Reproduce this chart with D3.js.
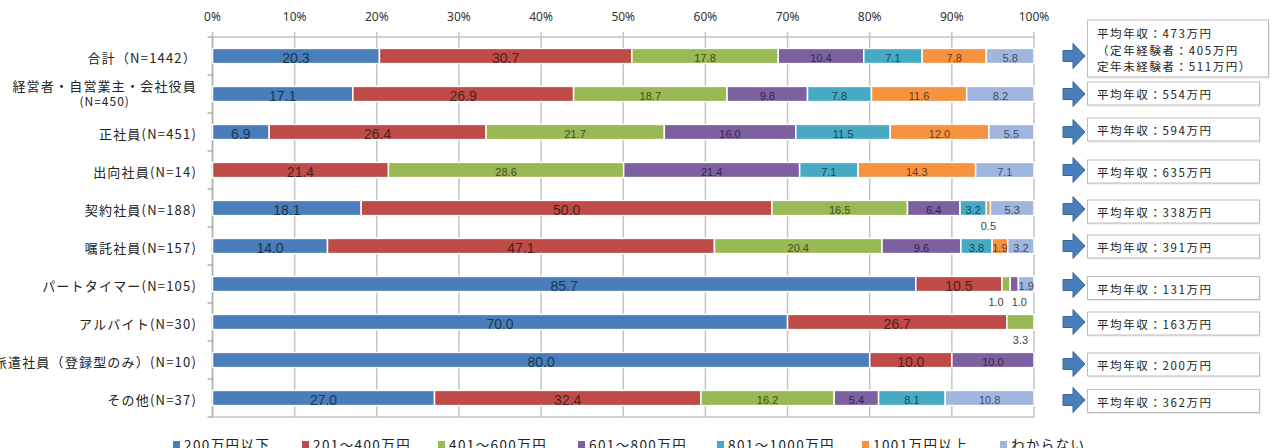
<!DOCTYPE html>
<html>
<head>
<meta charset="utf-8">
<script src="https://cdn.jsdelivr.net/npm/d3@7"></script>
<style>
  body { margin: 0; background: #fff; }
  svg { display: block; font-family: "Noto Sans CJK JP", "Noto Sans", sans-serif; }
</style>
</head>
<body>
<svg id="chart" width="1276" height="448"></svg>
<script>
// Categories (rows, top to bottom)
const categories = [
    "合計（N=1442）",
    "経営者・自営業主・会社役員\n(N=450)",
    "正社員(N=451)",
    "出向社員(N=14)",
    "契約社員(N=188)",
    "嘱託社員(N=157)",
    "パートタイマー(N=105)",
    "アルバイト(N=30)",
    "派遣社員（登録型のみ）(N=10)",
    "その他(N=37)"
];

// Series names (legend order)
const seriesNames = ["200万円以下", "201～400万円", "401～600万円", "601～800万円", "801～1000万円", "1001万円以上", "わからない"];

// Series values, one per category
const under200   = [20.3, 17.1, 6.9, 0, 18.1, 14.0, 85.7, 70.0, 80.0, 27.0];
const r201to400  = [30.7, 26.9, 26.4, 21.4, 50.0, 47.1, 10.5, 26.7, 10.0, 32.4];
const r401to600  = [17.8, 18.7, 21.7, 28.6, 16.5, 20.4, 1.0, 3.3, 0, 16.2];
const r601to800  = [10.4, 9.8, 16.0, 21.4, 6.4, 9.6, 1.0, 0, 10.0, 5.4];
const r801to1000 = [7.1, 7.8, 11.5, 7.1, 3.2, 3.8, 0, 0, 0, 8.1];
const over1001   = [7.8, 11.6, 12.0, 14.3, 0.5, 1.9, 0, 0, 0, 0];
const unknown    = [5.8, 8.2, 5.5, 7.1, 5.3, 3.2, 1.9, 0, 0, 10.8];

// Average income notes shown in the boxes on the right
const avgIncome = [
    ["平均年収：473万円", "（定年経験者：405万円", "定年未経験者：511万円）"],
    ["平均年収：554万円"],
    ["平均年収：594万円"],
    ["平均年収：635万円"],
    ["平均年収：338万円"],
    ["平均年収：391万円"],
    ["平均年収：131万円"],
    ["平均年収：163万円"],
    ["平均年収：200万円"],
    ["平均年収：362万円"]
];

// Top axis ticks
const tickValues = [0, 0.1, 0.2, 0.3, 0.4, 0.5, 0.6, 0.7, 0.8, 0.9, 1];

const colours = ["#4A7EBB", "#BE4B48", "#98B954", "#7D60A0", "#46AAC5", "#F69240", "#A0B6DE"];
const labelSizes = [14, 14, 11, 11, 11, 11, 11];

// Small segments whose labels sit below the bar (layout only)
const outsideLabels = [
    { row: 4, s: 5, dx: 0 },
    { row: 6, s: 2, dx: -10 },
    { row: 6, s: 3, dx: 5 },
    { row: 7, s: 2, dx: 0 }
];
// Hand nudges of the right-hand boxes / arrows relative to bar centre
const boxNudge = [0, -0.5, -2.5, 1.5, 3.5, 0.5, 4, 1.5, 4.5, 3];
const arrowNudge = [0, 0, 0, 0, 1, 0, 1, 0, 4, 2];

const allSeries = [under200, r201to400, r401to600, r601to800, r801to1000, over1001, unknown];

// Build table for d3.stack
const table = categories.map((c, i) => {
    const row = { category: c };
    seriesNames.forEach((s, j) => { row[s] = allSeries[j][i]; });
    return row;
});

const stacked = d3.stack()
    .keys(seriesNames)
    .offset(d3.stackOffsetExpand)(table);

const margin = { top: 37, left: 212.5, right: 1034, bottom: 417 };

const svg = d3.select("#chart");

const xScale = d3.scaleLinear().domain([0, 1]).range([margin.left, margin.right]);
const yScale = d3.scaleBand().domain(categories).range([margin.top, margin.bottom]).paddingInner(0.6).paddingOuter(0.3);
const step = yScale.step();

// Gridlines
svg.append("g")
    .selectAll("line")
    .data(tickValues)
    .join("line")
    .attr("x1", d => xScale(d))
    .attr("x2", d => xScale(d))
    .attr("y1", margin.top - 5)
    .attr("y2", margin.bottom)
    .attr("stroke", "#c4c4c4")
    .attr("stroke-width", 1.5);

// Top and bottom frame lines
svg.append("line")
    .attr("x1", margin.left).attr("x2", margin.right)
    .attr("y1", margin.top).attr("y2", margin.top)
    .attr("stroke", "#c4c4c4").attr("stroke-width", 1.5);
svg.append("line")
    .attr("x1", margin.left).attr("x2", margin.right)
    .attr("y1", margin.bottom).attr("y2", margin.bottom)
    .attr("stroke", "#c4c4c4").attr("stroke-width", 1.5);

// Left axis line with category ticks
svg.append("line")
    .attr("x1", margin.left).attr("x2", margin.left)
    .attr("y1", margin.top).attr("y2", margin.bottom)
    .attr("stroke", "#b0b0b0").attr("stroke-width", 1.5);
svg.append("g")
    .selectAll("line")
    .data(d3.range(categories.length + 1))
    .join("line")
    .attr("x1", margin.left - 5)
    .attr("x2", margin.left)
    .attr("y1", d => margin.top + d * step)
    .attr("y2", d => margin.top + d * step)
    .attr("stroke", "#b0b0b0").attr("stroke-width", 1.5);

// Top tick labels
svg.append("g")
    .selectAll("text")
    .data(tickValues)
    .join("text")
    .attr("x", d => xScale(d))
    .attr("y", 21)
    .attr("text-anchor", "middle")
    .style("font-family", "'Noto Sans', sans-serif")
    .style("font-size", "12px")
    .attr("fill", "#333")
    .text(d3.format(".0%"));

// Bars
const barCentre = c => yScale(c) + yScale.bandwidth() / 2;

svg.append("g")
    .selectAll("g")
    .data(stacked)
    .join("g")
    .attr("fill", (d, i) => colours[i])
    .selectAll("rect")
    .data(d => d)
    .join("rect")
    .attr("x", d => xScale(d[0]))
    .attr("width", d => Math.max(0, xScale(d[1]) - xScale(d[0])))
    .attr("y", d => yScale(d.data.category))
    .attr("height", yScale.bandwidth())
    .attr("stroke", "#fff")
    .attr("stroke-width", 1.5);

// Value labels
stacked.forEach((layer, s) => {
    layer.forEach((d, row) => {
        const v = allSeries[s][row];
        if (!v) return;
        const cx = (xScale(d[0]) + xScale(d[1])) / 2;
        const cy = barCentre(d.data.category);
        const out = outsideLabels.find(o => o.row === row && o.s === s);
        svg.append("text")
            .attr("x", out ? cx + out.dx : cx)
            .attr("y", out ? cy + 22 : cy + (labelSizes[s] > 12 ? 6.5 : 5.5))
            .attr("text-anchor", "middle")
            .style("font-family", "'Liberation Sans', sans-serif")
            .style("font-size", (out ? 11 : labelSizes[s]) + "px")
            .attr("fill", out ? "#444" : d3.color(colours[s]).darker(2.5))
            .text(d3.format(".1f")(v));
    });
});

// Category labels
categories.forEach(c => {
    const cy = barCentre(c);
    const lines = c.split("\n");
    if (lines.length === 1) {
        svg.append("text")
            .attr("x", 197)
            .attr("y", cy + 6.5)
            .attr("text-anchor", "end")
            .style("font-size", "13px")
            .style("letter-spacing", "1.2px")
            .attr("fill", "#222")
            .text(c);
    } else {
        const first = svg.append("text")
            .attr("x", 197)
            .attr("y", cy - 3)
            .attr("text-anchor", "end")
            .style("font-size", "13px")
            .style("letter-spacing", "1.2px")
            .attr("fill", "#222")
            .text(lines[0]);
        const w = first.node().getComputedTextLength();
        svg.append("text")
            .attr("x", 197 - w / 2)
            .attr("y", cy + 12)
            .attr("text-anchor", "middle")
            .style("font-size", "12px")
            .style("letter-spacing", "1px")
            .attr("fill", "#222")
            .text(lines[1]);
    }
});

// Arrows and average income boxes
categories.forEach((c, i) => {
    const cy = barCentre(c);
    const ay = cy + arrowNudge[i];
    const ax = 1063;
    svg.append("path")
        .attr("d", `M${ax},${ay - 5.5} L${ax + 10},${ay - 5.5} L${ax + 10},${ay - 12.5} L${ax + 22},${ay} L${ax + 10},${ay + 12.5} L${ax + 10},${ay + 5.5} L${ax},${ay + 5.5} Z`)
        .attr("fill", "#4A7EBB")
        .attr("stroke", "#3b6699")
        .attr("stroke-width", 1);

    const lines = avgIncome[i];
    const by = cy + boxNudge[i];
    const h = lines.length === 1 ? 23 : 57;
    const w = lines.length === 1 ? 172 : 181;
    const top = lines.length === 1 ? by - h / 2 : 20;
    svg.append("rect")
        .attr("x", 1088.5)
        .attr("y", top + 1.5)
        .attr("width", w)
        .attr("height", h)
        .attr("fill", "#e6e6e6");
    svg.append("rect")
        .attr("x", 1087.5)
        .attr("y", top)
        .attr("width", w)
        .attr("height", h)
        .attr("fill", "#fff")
        .attr("stroke", "#bdbdbd")
        .attr("stroke-width", 1);
    lines.forEach((t, k) => {
        svg.append("text")
            .attr("x", 1097)
            .attr("y", lines.length === 1 ? by + 5.5 : 38 + k * 16.5)
            .style("font-size", "11.5px")
            .style("letter-spacing", "1.6px")
            .attr("fill", "#222")
            .text(t);
    });
});

// Legend
const legendX = [173, 302, 438, 578, 717, 862, 1000];
seriesNames.forEach((s, i) => {
    svg.append("rect")
        .attr("x", legendX[i])
        .attr("y", 441)
        .attr("width", 7)
        .attr("height", 7)
        .attr("fill", colours[i]);
    svg.append("text")
        .attr("x", legendX[i] + 11)
        .attr("y", 450)
        .style("font-size", "13.5px")
        .style("letter-spacing", "1.4px")
        .attr("fill", "#222")
        .text(s);
});
</script>
</body>
</html>
